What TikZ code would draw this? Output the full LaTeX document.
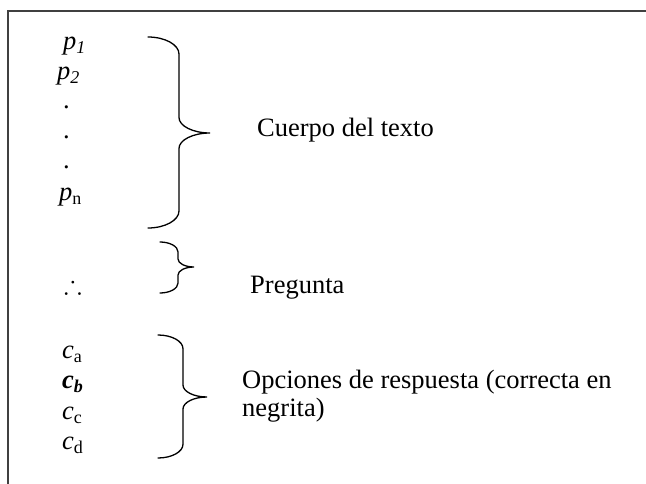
\documentclass[tikz,border=0pt]{standalone}
\usepackage{amssymb}
\usepackage{fontspec}
\setmainfont{Liberation Serif}

% subindice
\newcommand{\sub}[1]{\raisebox{-4pt}{\fontsize{18}{18}\selectfont #1}}
% llave: x extremos, x tallo, x punta, y arriba, y punta, y abajo
\newcommand{\llave}[6]{%
  \pgfmathsetmacro{\ra}{0.55*(#2-#1)}%
  \pgfmathsetmacro{\rb}{0.5*(#3-#2)}%
  \draw[brace] (#1,#4) .. controls ({#1+0.55*(#2-#1)},#4) and (#2,{#4+0.45*\ra}) .. (#2,{#4+\ra})
    -- (#2,{#5-\rb}) .. controls (#2,{#5-0.45*\rb}) and ({#3-0.55*(#3-#2)},#5) .. (#3,#5)
    .. controls ({#3-0.55*(#3-#2)},#5) and (#2,{#5+0.45*\rb}) .. (#2,{#5+\rb})
    -- (#2,{#6-\ra}) .. controls (#2,{#6-0.45*\ra}) and ({#1+0.55*(#2-#1)},#6) .. (#1,#6);}

\begin{document}
\begin{tikzpicture}[x=1pt,y=-1pt,
    item/.style={anchor=base west,inner sep=0pt,font=\fontsize{26.5}{28}\selectfont},
    brace/.style={line width=1.3pt,line cap=round},
    frame/.style={line width=1.6pt,black!75}]
      \useasboundingbox (0,0) rectangle (646,484);
      \draw[frame] (8,484) -- (8,11) -- (646,11);

      % cuerpo del texto
      \node[item] (p1) at (63,50)  {\textit{p}\sub{\textit{1}}};
      \node[item] (p2) at (57,80)  {\textit{p}\sub{\textit{2}}};
      \node[item] (d1) at (63,109) {.};
      \node[item] (d2) at (63,139) {.};
      \node[item] (d3) at (63,169) {.};
      \node[item] (pn) at (59,201) {\textit{p}\sub{n}};
      \llave{148}{179}{210}{37}{133}{228}
      \node[item] (cuerpo) at (257,137) {Cuerpo del texto};

      % pregunta
      \node[item] (por) at (64,293) {$\therefore$};
      \llave{160}{178}{194}{242}{267}{293}
      \node[item] (preg) at (250,293) {Pregunta};

      % opciones
      \node[item] (ca) at (62,358) {\textit{c}\sub{a}};
      \node[item] (cb) at (62,388) {\textbf{\textit{c}}\sub{\textbf{\textit{b}}}};
      \node[item] (cc) at (62,419) {\textit{c}\sub{c}};
      \node[item] (cd) at (62,449) {\textit{c}\sub{d}};
      \llave{158}{183}{207}{335}{397}{458}
      \node[item] (opc) at (242,388) {Opciones de respuesta (correcta en};
      \node[item] (negr) at (242,416) {negrita)};
\end{tikzpicture}
\end{document}
